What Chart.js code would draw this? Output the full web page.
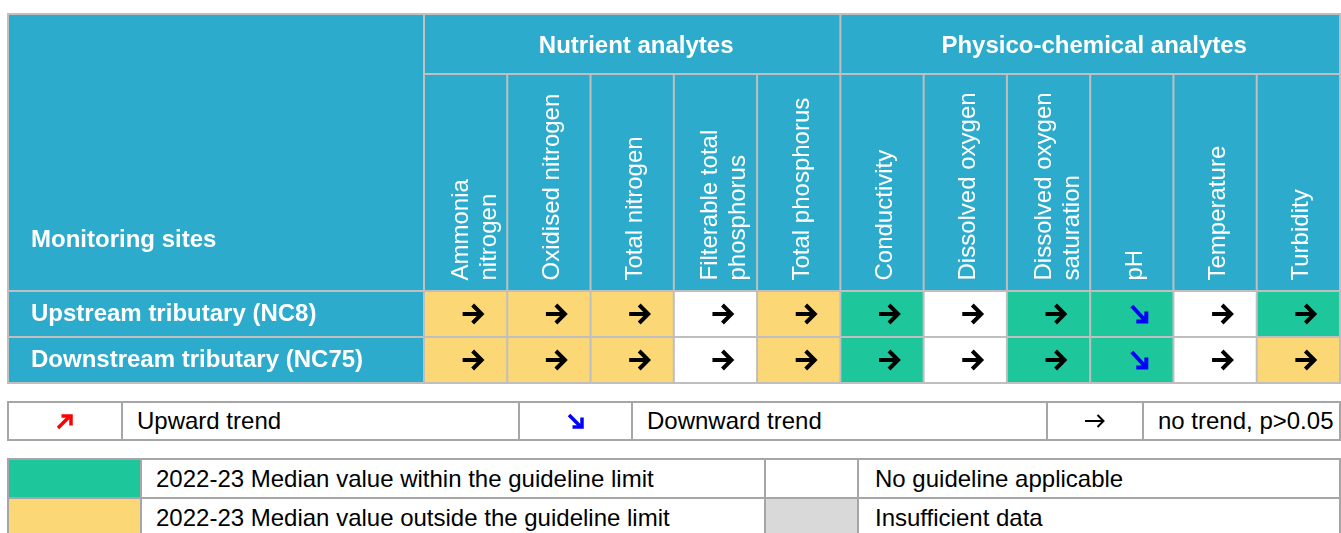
<!DOCTYPE html>
<html>
<head>
<meta charset="utf-8">
<script src="https://cdn.jsdelivr.net/npm/chart.js@4.4.0/dist/chart.umd.min.js"></script>
<style>
body{margin:0;background:#fff;font-family:'Liberation Sans',Arial,sans-serif;}
#wrap{position:absolute;left:7px;top:13px;width:1334px;height:371px;}
.leg{position:absolute;left:7px;width:1334px;box-sizing:border-box;border:2px solid #a6a6a6;background:#fff;}
.row{display:flex;height:37px;}
.row + .row{border-top:2px solid #a6a6a6;}
.cell{box-sizing:border-box;border-left:2px solid #a6a6a6;font-size:24px;color:#000;display:flex;align-items:center;padding-left:14px;white-space:nowrap;}
.cell:first-child{border-left:none;}
.sym{justify-content:center;padding-left:0;}
</style>
</head>
<body>
<div id="wrap"><canvas id="tabla"></canvas></div>

<div class="leg" style="top:401px;">
  <div class="row" style="height:36px;">
    <div class="cell sym" style="width:112px;"><svg width="18" height="17" viewBox="0 0 18 17"><path d="M2 15 L14 3" stroke="#ff0000" stroke-width="3.5" fill="none"/><path d="M5.5 3 L15 3 L15 12.5" stroke="#ff0000" stroke-width="3.5" fill="none"/></svg></div>
    <div class="cell" style="width:397px;">Upward trend</div>
    <div class="cell sym" style="width:113px;"><svg width="18" height="17" viewBox="0 0 18 17"><path d="M2 2 L14 14" stroke="#0000ff" stroke-width="3.5" fill="none"/><path d="M5.5 14 L15 14 L15 4.5" stroke="#0000ff" stroke-width="3.5" fill="none"/></svg></div>
    <div class="cell" style="width:415px;">Downward trend</div>
    <div class="cell sym" style="width:96px;"><svg width="20" height="14" viewBox="0 0 20 14"><path d="M0 7 L18.5 7" stroke="#000" stroke-width="2" fill="none"/><path d="M12.5 1 L18.5 7 L12.5 13" stroke="#000" stroke-width="2" fill="none"/></svg></div>
    <div class="cell" style="width:197px;">no trend, p&gt;0.05</div>
  </div>
</div>

<div class="leg" style="top:458px;">
  <div class="row">
    <div class="cell" style="width:131px;background:#1DC69B;"></div>
    <div class="cell" style="width:624px;">2022-23 Median value within the guideline limit</div>
    <div class="cell" style="width:93px;background:#ffffff;"></div>
    <div class="cell" style="width:482px;padding-left:16px;">No guideline applicable</div>
  </div>
  <div class="row">
    <div class="cell" style="width:131px;background:#FBD775;"></div>
    <div class="cell" style="width:624px;">2022-23 Median value outside the guideline limit</div>
    <div class="cell" style="width:93px;background:#D9D9D9;"></div>
    <div class="cell" style="width:482px;padding-left:16px;">Insufficient data</div>
  </div>
</div>

<script>
// datos de la tabla
var analitos = [['Ammonia','nitrogen'], 'Oxidised nitrogen', 'Total nitrogen', ['Filterable total','phosphorus'], 'Total phosphorus',
                'Conductivity', 'Dissolved oxygen', ['Dissolved oxygen','saturation'], 'pH', 'Temperature', 'Turbidity'];
var grupos = ['Nutrient analytes', 'Physico-chemical analytes'];
var tamGrupos = [5, 6];
var sitios = ['Upstream tributary (NC8)', 'Downstream tributary (NC75)'];

// estado de la mediana: within / outside / none / insufficient
var estadoNC8  = ['outside','outside','outside','none','outside','within','none','within','within','none','within'];
var estadoNC75 = ['outside','outside','outside','none','outside','within','none','within','within','none','outside'];
// tendencia: up / down / none
var tendNC8  = ['none','none','none','none','none','none','none','none','down','none','none'];
var tendNC75 = ['none','none','none','none','none','none','none','none','down','none','none'];

var estados = [estadoNC8, estadoNC75];
var tendencias = [tendNC8, tendNC75];

var colores = {within:'#1DC69B', outside:'#FBD775', none:'#FFFFFF', insufficient:'#D9D9D9'};
var azul = '#2DABCC';
var linea = '#BFBFBF';
var fuente = "'Liberation Sans', Arial, sans-serif";
var altoNombres = 217; // alto de la fila de nombres rotados

Chart.defaults.font.family = fuente;

function flecha(ctx, tipo, cx, cy){
	ctx.save();
	ctx.lineWidth = 4;
	ctx.lineCap = 'butt';
	ctx.lineJoin = 'miter';
	ctx.beginPath();
	if (tipo === 'down') {
		ctx.strokeStyle = '#0000FF';
		ctx.moveTo(cx-4, cy-8); ctx.lineTo(cx+8.5, cy+5.5);
		ctx.moveTo(cx+0.5, cy+7.5); ctx.lineTo(cx+10.5, cy+7.5); ctx.lineTo(cx+10.5, cy-2.5);
	} else if (tipo === 'up') {
		ctx.strokeStyle = '#FF0000';
		ctx.moveTo(cx-4, cy+8); ctx.lineTo(cx+8.5, cy-5.5);
		ctx.moveTo(cx+0.5, cy-7.5); ctx.lineTo(cx+10.5, cy-7.5); ctx.lineTo(cx+10.5, cy+2.5);
	} else {
		ctx.strokeStyle = '#000000';
		ctx.moveTo(cx-7, cy); ctx.lineTo(cx+11, cy);
		ctx.moveTo(cx+3, cy-9); ctx.lineTo(cx+12, cy); ctx.lineTo(cx+3, cy+9);
	}
	ctx.stroke();
	ctx.restore();
}

var marcoTabla = {
	id: 'marcoTabla',
	beforeDraw: function(chart){
		var ctx = chart.ctx;
		ctx.save();
		ctx.fillStyle = azul;
		ctx.fillRect(0, 0, chart.width, chart.height);
		ctx.restore();
	},
	afterDatasetsDraw: function(chart){
		var ctx = chart.ctx, area = chart.chartArea;
		var sx = chart.scales.x, sy = chart.scales.y;
		var corte = sx.bottom - altoNombres; // linea entre grupos y nombres
		// borde izquierdo de cada columna
		function borde(i){ return sx.getPixelForValue(i) - (sx.getPixelForValue(1) - sx.getPixelForValue(0)) / 2; }

		// flechas de tendencia
		chart.data.datasets.forEach(function(ds, i){
			chart.getDatasetMeta(i).data.forEach(function(bar, j){
				flecha(ctx, tendencias[i][j], bar.x + 4, (bar.y + bar.base) / 2);
			});
		});

		ctx.save();
		ctx.fillStyle = '#fff';
		ctx.textAlign = 'left';
		ctx.textBaseline = 'alphabetic';

		// encabezado de la primera columna
		ctx.font = 'bold 24px ' + fuente;
		ctx.fillText('Monitoring sites', sy.left, sx.bottom - 44.3);

		// encabezados de grupo
		ctx.textAlign = 'center';
		var acum = 0;
		grupos.forEach(function(g, k){
			var x0 = borde(acum), x1 = borde(acum + tamGrupos[k]);
			ctx.fillText(g, (x0 + x1) / 2 + 4, corte - 20.7);
			acum += tamGrupos[k];
		});

		// nombres de analitos, rotados
		ctx.textAlign = 'left';
		ctx.font = '24px ' + fuente;
		analitos.forEach(function(a, i){
			var lineas = Array.isArray(a) ? a : [a];
			var c = sx.getPixelForValue(i);
			lineas.forEach(function(t, k){
				var base = lineas.length > 1 ? c + 2 + k * 28 : c + 10;
				ctx.save();
				ctx.translate(base, sx.bottom - 10.5);
				ctx.rotate(-Math.PI / 2);
				ctx.fillText(t, 0, 0);
				ctx.restore();
			});
		});
		ctx.restore();

		// lineas de la cuadricula
		ctx.save();
		ctx.strokeStyle = linea;
		ctx.lineWidth = 2;
		ctx.beginPath();
		ctx.moveTo(area.left, 0); ctx.lineTo(area.left, area.bottom);
		ctx.moveTo(area.left, corte); ctx.lineTo(area.right, corte);
		ctx.moveTo(0, area.top); ctx.lineTo(chart.width, area.top);
		for (var k = 1; k < sitios.length; k++) {
			var yy = sy.getPixelForValue(k);
			ctx.moveTo(0, yy); ctx.lineTo(chart.width, yy);
		}
		for (var c = 1; c < analitos.length; c++) {
			ctx.moveTo(borde(c), corte); ctx.lineTo(borde(c), area.bottom);
		}
		var ac = 0;
		for (var g = 0; g < tamGrupos.length - 1; g++) {
			ac += tamGrupos[g];
			ctx.moveTo(borde(ac), 0); ctx.lineTo(borde(ac), area.bottom);
		}
		ctx.stroke();
		ctx.strokeRect(1, 1, chart.width - 2, chart.height - 2);
		ctx.restore();
	}
};

var tabla = new Chart(document.getElementById('tabla'), {
	type: 'bar',
	data: {
		labels: analitos,
		datasets: sitios.map(function(s, i){
			return {
				label: s,
				data: analitos.map(function(){ return 1; }),
				backgroundColor: estados[i].map(function(e){ return colores[e]; }),
				borderWidth: 0,
				barPercentage: 1,
				categoryPercentage: 1
			};
		})
	},
	options: {
		responsive: true,
		maintainAspectRatio: false,
		animation: false,
		layout: { padding: { left: 24, top: 1, right: 1, bottom: 1 } },
		plugins: { legend: { display: false }, tooltip: { enabled: false } },
		scales: {
			x: {
				type: 'category',
				position: 'top',
				stacked: true,
				grid: { display: false, drawTicks: false },
				border: { display: false },
				ticks: { display: false },
				afterFit: function(scale){
					scale.height = 277;
					scale.paddingLeft = 0; scale.paddingRight = 0;
				}
			},
			y: {
				type: 'linear',
				position: 'left',
				stacked: true,
				reverse: true,
				min: 0, max: sitios.length,
				grid: { display: false, drawTicks: false },
				border: { display: false },
				afterBuildTicks: function(scale){ scale.ticks = sitios.map(function(s, i){ return {value: i + 0.5}; }); },
				ticks: { color: '#fff', font: { size: 24, weight: 'bold' }, crossAlign: 'far', autoSkip: false,
					callback: function(v, i){ return sitios[i]; } },
				afterFit: function(scale){
					scale.width = 393;
					scale.paddingTop = 0; scale.paddingBottom = 0;
				}
			}
		}
	},
	plugins: [marcoTabla]
});
</script>
</body>
</html>
